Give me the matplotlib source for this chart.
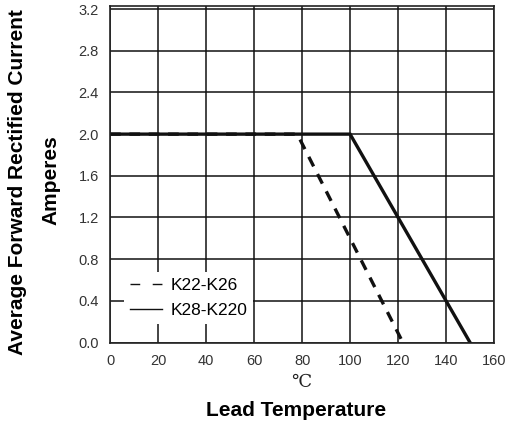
import matplotlib.pyplot as plt
from matplotlib.lines import Line2D

plt.rcParams['font.family'] = ['Liberation Sans', 'DejaVu Sans']

# derating curves
temp_k22 = [0, 78, 122]
amps_k22 = [2.0, 2.0, 0.0]
temp_k28 = [0, 100, 150]
amps_k28 = [2.0, 2.0, 0.0]
labels = ['K22-K26', 'K28-K220']
xticks = [0, 20, 40, 60, 80, 100, 120, 140, 160]
yticks = [0.0, 0.4, 0.8, 1.2, 1.6, 2.0, 2.4, 2.8, 3.2]

fig = plt.figure(figsize=(5.12, 4.25), dpi=100)
ax = fig.add_axes([0.215, 0.194, 0.75, 0.792])

ax.plot(temp_k28, amps_k28, color='#111111', lw=2.4, solid_joinstyle='miter')
ax.plot(temp_k22, amps_k22, color='#111111', lw=2.4, ls=(0, (3.2, 2.6)))

ax.set_xlim(0, 160)
ax.set_ylim(0, 3.23)
ax.set_xticks(xticks)
ax.set_yticks(yticks)
ax.set_yticklabels([f'{v:.1f}' for v in yticks])
ax.tick_params(length=0, labelsize=10.5, labelcolor='#333333', pad=8)
ax.grid(True, color='#111111', lw=1.1)
ax.set_axisbelow(True)
for s in ax.spines.values():
    s.set_color('#222222')
    s.set_linewidth(1.2)

handles = [Line2D([], [], color='#111111', lw=1, ls=(0, (7, 9))),
           Line2D([], [], color='#111111', lw=1)]
leg = ax.legend(handles, labels, loc='lower left', bbox_to_anchor=(0.037, 0.055),
                borderaxespad=0, fontsize=12.5, frameon=True, fancybox=False,
                framealpha=1, edgecolor='none', handlelength=1.85,
                handletextpad=0.45, borderpad=0.35, labelspacing=0.55)
leg.get_frame().set_linewidth(0)

fig.text(0.035, 0.572, 'Average Forward Rectified Current', rotation=90,
         fontsize=15, fontweight='bold', ha='center', va='center')
fig.text(0.1, 0.577, 'Amperes', rotation=90,
         fontsize=15, fontweight='bold', ha='center', va='center')
fig.text(0.588, 0.102, '℃', fontsize=13, ha='center', va='center',
         family=['DejaVu Serif', 'Noto Sans CJK SC'], color='#222222')
fig.text(0.579, 0.033, 'Lead Temperature', fontsize=15, fontweight='bold',
         ha='center', va='center')

fig.savefig('out.png', dpi=100)
